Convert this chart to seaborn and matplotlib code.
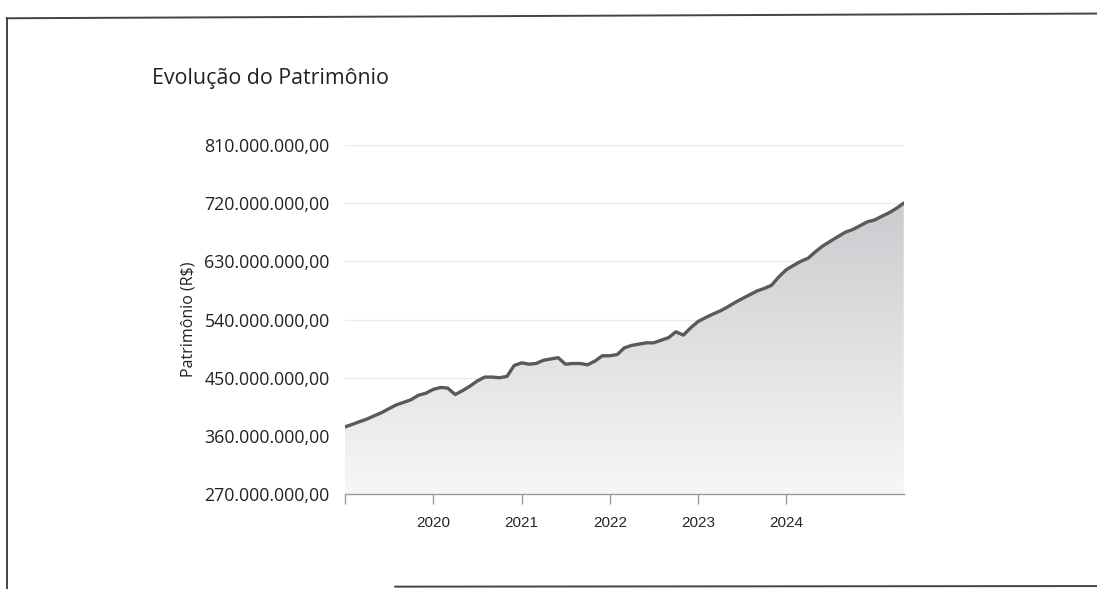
import numpy as np
import pandas as pd
import matplotlib
matplotlib.use("Agg")
import matplotlib.pyplot as plt
import matplotlib.dates as mdates
from matplotlib.lines import Line2D
from matplotlib.ticker import FuncFormatter
import seaborn as sns

# Monthly patrimony (R$ millions), Jan 2019 -> May 2025
patrimonio_mi = [
    374, 378, 382, 386, 391, 396, 402, 408, 412, 416, 423, 426,
    432, 435, 434, 424, 430, 437, 445, 451, 451, 450, 452, 469,
    473, 471, 472, 477, 479, 481, 471, 472, 472, 470, 476, 484,
    484, 486, 496, 500, 502, 504, 504, 508, 512, 521, 516, 527,
    537, 543, 548, 553, 559, 566, 572, 578, 584, 588, 593, 606,
    617, 624, 630, 635, 645, 654, 661, 668, 675, 679, 685, 691,
    694, 700, 705, 712, 720,
]
datas = pd.date_range("2019-01-01", periods=len(patrimonio_mi), freq="MS")
y_ticks = [270, 360, 450, 540, 630, 720, 810]
anos = [2019, 2020, 2021, 2022, 2023, 2024]
ano_labels = ["", "2020", "2021", "2022", "2023", "2024"]

df = pd.DataFrame({"Data": datas, "Patrimonio": np.array(patrimonio_mi) * 1e6})

sns.set_style("white")
plt.rcParams["font.family"] = ["Open Sans", "DejaVu Sans"]

fig = plt.figure(figsize=(10.97, 5.89), dpi=100)
ax = fig.add_axes([0.3145, 0.161, 0.51, 0.593])

# gradient fill under the curve
fill = ax.fill_between(df["Data"], df["Patrimonio"], 270e6, color="none")
x0, x1 = mdates.date2num(df["Data"].iloc[0]), mdates.date2num(df["Data"].iloc[-1])
grad = np.linspace(0, 1, 256).reshape(-1, 1)
img = ax.imshow(grad, cmap=plt.cm.colors.LinearSegmentedColormap.from_list(
    "g", ["#f7f7f8", "#c9cacd"]), aspect="auto", origin="lower",
    extent=[x0, x1, 270e6, 730e6], zorder=1)
img.set_clip_path(fill.get_paths()[0], transform=ax.transData)

sns.lineplot(data=df, x="Data", y="Patrimonio", color="#5a5a5a", linewidth=2.4, ax=ax, zorder=3)

ax.set_xlim(x0, x1 + 3)
ax.set_ylim(270e6, 810e6)
ax.set_yticks([v * 1e6 for v in y_ticks])
ax.yaxis.set_major_formatter(FuncFormatter(
    lambda v, p: f"{v:,.2f}".replace(",", "X").replace(".", ",").replace("X", ".")))
ax.set_xticks([mdates.date2num(pd.Timestamp(f"{a}-01-01")) for a in anos])
ax.set_xticklabels(ano_labels, family=["Liberation Sans", "DejaVu Sans"], fontsize=11)
ax.grid(axis="y", color="#ebebeb", linewidth=0.9)
ax.set_axisbelow(True)
for s in ["top", "right", "left"]:
    ax.spines[s].set_visible(False)
ax.spines["bottom"].set_color("#9a9a9a")
ax.spines["bottom"].set_linewidth(1)
ax.tick_params(axis="x", length=7, width=1, color="#9a9a9a", pad=9, bottom=True)
ax.tick_params(axis="y", length=0, pad=11, labelsize=12.8, labelcolor="#222222")
ax.set_xlabel("")
ax.set_ylabel("Patrimônio (R$)", fontsize=11.5, color="#222222")
ax.yaxis.set_label_coords(-0.265, 0.5)

fig.text(0.1385, 0.866, "Evolução do Patrimônio", fontsize=15.4, color="#222222", va="center")

# scanned page frame
fig.add_artist(Line2D([0.006, 1.0], [0.969, 0.977], color="#444444", linewidth=1.4))
fig.add_artist(Line2D([0.0065, 0.0065], [0.0, 0.969], color="#444444", linewidth=1.4))
fig.add_artist(Line2D([0.36, 1.0], [0.004, 0.005], color="#444444", linewidth=1.4))

fig.savefig("out.png", dpi=100, facecolor="white")
